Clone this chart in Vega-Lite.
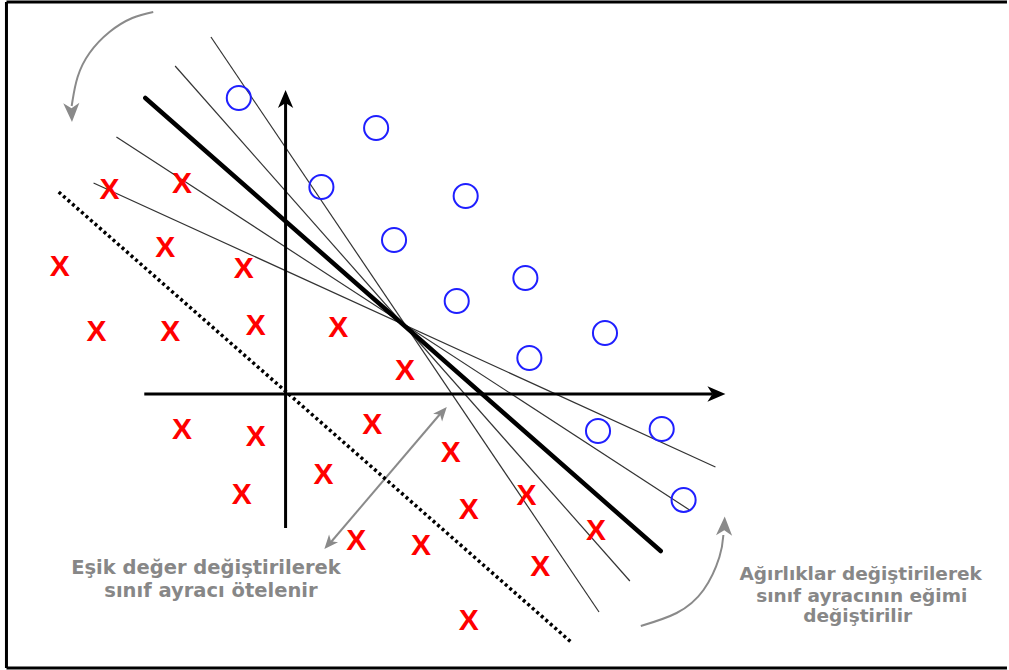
{
  "$schema": "https://vega.github.io/schema/vega-lite/v6.json",
  "width": 1009,
  "height": 670,
  "padding": 0,
  "autosize": {"type": "fit", "contains": "padding"},
  "background": "white",
  "config": {"view": {"stroke": null}},
  "datasets": {
    "frame": [
      {"x": 6.5, "y": 2, "x2": 1012, "y2": 2},
      {"x": 6.5, "y": 2, "x2": 6.5, "y2": 668},
      {"x": 6.5, "y": 668, "x2": 1012, "y2": 668}
    ],
    "axes": [
      {"x": 287, "y": 528, "x2": 287, "y2": 100},
      {"x": 145, "y": 394, "x2": 716, "y2": 394}
    ],
    "axisHeads": [
      {"x": 287, "y": 99, "dir": 0},
      {"x": 720, "y": 394, "dir": 90}
    ],
    "thin": [
      {"x": 212, "y": 37, "x2": 602, "y2": 612},
      {"x": 176, "y": 66, "x2": 633, "y2": 581},
      {"x": 117, "y": 137, "x2": 693, "y2": 510},
      {"x": 94, "y": 183, "x2": 719, "y2": 467}
    ],
    "thick": [{"x": 146, "y": 98, "x2": 664, "y2": 551}],
    "dotted": [{"x": 59, "y": 192, "x2": 575, "y2": 643}],
    "doubleArrow": [{"x": 331, "y": 544, "x2": 444, "y2": 412}],
    "grayHeadsLarge": [
      {"x": 72, "y": 112.5, "dir": 178},
      {"x": 728, "y": 526, "dir": 2}
    ],
    "grayHeadsSmall": [
      {"x": 444.4, "y": 412.3, "dir": 41},
      {"x": 330.6, "y": 543.7, "dir": 221}
    ],
    "curves": [
      {"curve": "a", "i": 0, "x": 154, "y": 12},
      {"curve": "a", "i": 1, "x": 133, "y": 18},
      {"curve": "a", "i": 2, "x": 110, "y": 32},
      {"curve": "a", "i": 3, "x": 90, "y": 53},
      {"curve": "a", "i": 4, "x": 78, "y": 77},
      {"curve": "a", "i": 5, "x": 73, "y": 100},
      {"curve": "a", "i": 6, "x": 72, "y": 106},
      {"curve": "b", "i": 0, "x": 644, "y": 626},
      {"curve": "b", "i": 1, "x": 680, "y": 613},
      {"curve": "b", "i": 2, "x": 707, "y": 590},
      {"curve": "b", "i": 3, "x": 723, "y": 557},
      {"curve": "b", "i": 4, "x": 727, "y": 535}
    ],
    "circles": [
      {"x": 240, "y": 98}, {"x": 378, "y": 128}, {"x": 323, "y": 187},
      {"x": 468, "y": 196}, {"x": 396, "y": 240}, {"x": 528, "y": 278},
      {"x": 459, "y": 301}, {"x": 608, "y": 333}, {"x": 532, "y": 358},
      {"x": 601, "y": 431}, {"x": 665, "y": 429}, {"x": 687, "y": 500}
    ],
    "crosses": [
      {"x": 110, "y": 188}, {"x": 183, "y": 182}, {"x": 60, "y": 265},
      {"x": 166, "y": 246}, {"x": 245, "y": 267}, {"x": 97, "y": 330},
      {"x": 171, "y": 330}, {"x": 257, "y": 324}, {"x": 340, "y": 326},
      {"x": 407, "y": 369}, {"x": 183, "y": 428}, {"x": 257, "y": 435},
      {"x": 374, "y": 423}, {"x": 453, "y": 451}, {"x": 325, "y": 473},
      {"x": 243, "y": 493}, {"x": 529, "y": 494}, {"x": 471, "y": 508},
      {"x": 358, "y": 539}, {"x": 423, "y": 544}, {"x": 599, "y": 529},
      {"x": 543, "y": 565}, {"x": 471, "y": 619}
    ],
    "labelsLeft": [
      {"x": 207, "y": 574, "label": "Eşik değer değiştirilerek"},
      {"x": 212, "y": 597, "label": "sınıf ayracı ötelenir"}
    ],
    "labelsRight": [
      {"x": 865, "y": 580, "label": "Ağırlıklar değiştirilerek"},
      {"x": 866, "y": 602, "label": "sınıf ayracının eğimi"},
      {"x": 862, "y": 622, "label": "değiştirilir"}
    ]
  },
  "encoding": {
    "x": {"field": "x", "type": "quantitative", "scale": {"domain": [0, 1009], "nice": false, "zero": false}, "axis": null},
    "y": {"field": "y", "type": "quantitative", "scale": {"domain": [0, 670], "nice": false, "zero": false, "reverse": true}, "axis": null}
  },
  "layer": [
    {
      "data": {"name": "frame"},
      "mark": {"type": "rule", "color": "black", "strokeWidth": 3},
      "encoding": {"x2": {"field": "x2"}, "y2": {"field": "y2"}}
    },
    {
      "data": {"name": "curves"},
      "mark": {"type": "line", "color": "#8a8a8a", "strokeWidth": 2, "interpolate": "natural"},
      "encoding": {"detail": {"field": "curve"}, "order": {"field": "i", "type": "quantitative"}}
    },
    {
      "data": {"name": "grayHeadsLarge"},
      "mark": {"type": "point", "shape": "M0,-1L0.85,1L0,0.45L-0.85,1Z", "filled": true, "color": "#8a8a8a", "opacity": 1, "size": 361, "strokeWidth": 0},
      "encoding": {"angle": {"field": "dir", "type": "quantitative", "scale": null}}
    },
    {
      "data": {"name": "doubleArrow"},
      "mark": {"type": "rule", "color": "#8a8a8a", "strokeWidth": 2},
      "encoding": {"x2": {"field": "x2"}, "y2": {"field": "y2"}}
    },
    {
      "data": {"name": "grayHeadsSmall"},
      "mark": {"type": "point", "shape": "M0,-1L0.85,1L0,0.45L-0.85,1Z", "filled": true, "color": "#8a8a8a", "opacity": 1, "size": 196, "strokeWidth": 0},
      "encoding": {"angle": {"field": "dir", "type": "quantitative", "scale": null}}
    },
    {
      "data": {"name": "dotted"},
      "mark": {"type": "rule", "color": "black", "strokeWidth": 3.5, "strokeDash": [3, 3]},
      "encoding": {"x2": {"field": "x2"}, "y2": {"field": "y2"}}
    },
    {
      "data": {"name": "thin"},
      "mark": {"type": "rule", "color": "#333333", "strokeWidth": 1.2},
      "encoding": {"x2": {"field": "x2"}, "y2": {"field": "y2"}}
    },
    {
      "data": {"name": "thick"},
      "mark": {"type": "rule", "color": "black", "strokeWidth": 4.5, "strokeCap": "round"},
      "encoding": {"x2": {"field": "x2"}, "y2": {"field": "y2"}}
    },
    {
      "data": {"name": "axes"},
      "mark": {"type": "rule", "color": "black", "strokeWidth": 3},
      "encoding": {"x2": {"field": "x2"}, "y2": {"field": "y2"}}
    },
    {
      "data": {"name": "axisHeads"},
      "mark": {"type": "point", "shape": "M0,-1L0.85,1L0,0.45L-0.85,1Z", "filled": true, "color": "black", "opacity": 1, "size": 324, "strokeWidth": 0},
      "encoding": {"angle": {"field": "dir", "type": "quantitative", "scale": null}}
    },
    {
      "data": {"name": "circles"},
      "mark": {"type": "point", "shape": "circle", "filled": false, "color": "#1f1fff", "opacity": 1, "size": 580, "strokeWidth": 2}
    },
    {
      "data": {"name": "crosses"},
      "mark": {"type": "text", "text": "X", "color": "#ff0000", "font": "Liberation Sans", "fontWeight": "bold", "fontSize": 30, "baseline": "middle", "align": "center", "dy": 2}
    },
    {
      "data": {"name": "labelsLeft"},
      "mark": {"type": "text", "color": "#878787", "font": "DejaVu Sans", "fontWeight": "bold", "fontSize": 19.5, "baseline": "alphabetic", "align": "center"},
      "encoding": {"text": {"field": "label"}}
    },
    {
      "data": {"name": "labelsRight"},
      "mark": {"type": "text", "color": "#878787", "font": "DejaVu Sans", "fontWeight": "bold", "fontSize": 18.5, "baseline": "alphabetic", "align": "center"},
      "encoding": {"text": {"field": "label"}}
    }
  ]
}
